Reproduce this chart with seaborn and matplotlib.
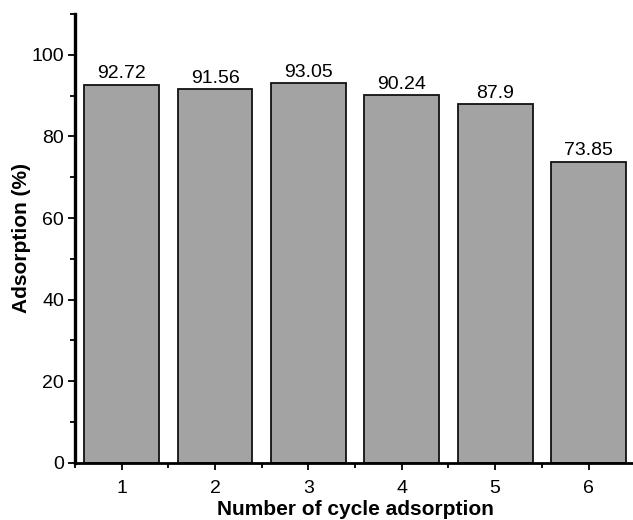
import numpy as np
import pandas as pd
import matplotlib
matplotlib.use('Agg')
import matplotlib.pyplot as plt
import seaborn as sns
from matplotlib.ticker import MultipleLocator

# data
cycles = ['1', '2', '3', '4', '5', '6']
adsorption = [92.72, 91.56, 93.05, 90.24, 87.9, 73.85]
bar_labels = ['92.72', '91.56', '93.05', '90.24', '87.9', '73.85']

sns.set_style('ticks')
plt.rcParams['font.family'] = ['Liberation Sans', 'DejaVu Sans']

df = pd.DataFrame({'Cycle': cycles, 'Adsorption': adsorption})

fig = plt.figure(figsize=(6.33, 5.2), dpi=100)
ax = fig.add_axes([0.1185, 0.11, 0.885, 0.863])

sns.barplot(data=df, x='Cycle', y='Adsorption', color='#a3a3a3', saturation=1,
            width=0.8, edgecolor='#111111', linewidth=1.3, ax=ax)

for p, lab in zip(ax.patches, bar_labels):
    ax.text(p.get_x() + p.get_width() / 2, p.get_height() + 0.5, lab,
            ha='center', va='bottom', fontsize=14, color='black')

ax.set_ylim(0, 110)
ax.set_xlim(-0.5, 5.5)
ax.yaxis.set_major_locator(MultipleLocator(20))
ax.yaxis.set_minor_locator(MultipleLocator(10))
ax.xaxis.set_minor_locator(MultipleLocator(1, offset=0.5))

sns.despine(ax=ax)
ax.spines['left'].set_linewidth(2.4)
ax.spines['bottom'].set_linewidth(2.0)
ax.spines['left'].set_color('black')
ax.spines['bottom'].set_color('black')
ax.tick_params(axis='both', which='major', direction='out', length=5, width=1.3,
               labelsize=14, colors='black', pad=3)
ax.tick_params(axis='x', which='major', pad=7.5)
ax.tick_params(axis='both', which='minor', direction='out', length=3.5, width=1.3,
               colors='black')

ax.set_xlabel('Number of cycle adsorption', fontsize=15, fontweight='bold',
              labelpad=2, color='black')
ax.set_ylabel('Adsorption (%)', fontsize=15, fontweight='bold',
              labelpad=0, color='black')

fig.savefig('out.png', dpi=100)
